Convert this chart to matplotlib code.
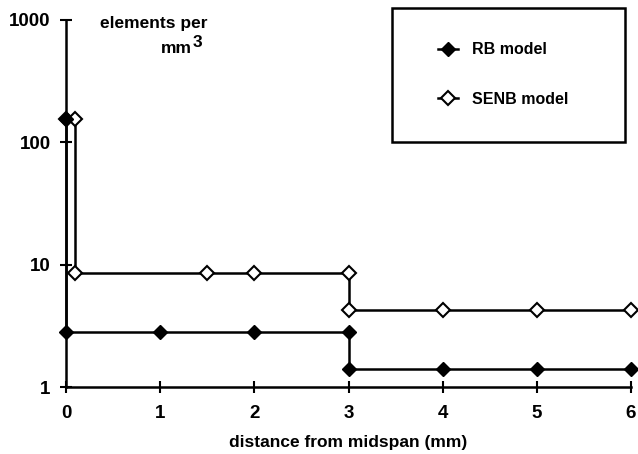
import matplotlib
matplotlib.use("Agg")
import matplotlib.pyplot as plt
from matplotlib.ticker import FixedLocator, NullLocator, FixedFormatter
from matplotlib.lines import Line2D
from matplotlib.patches import Rectangle

plt.rcParams['font.family'] = ['Liberation Sans', 'DejaVu Sans']
plt.rcParams['font.weight'] = 'bold'

# data
rb_x = [0, 0, 1, 2, 3, 3, 4, 5, 6]
rb_y = [155, 2.8, 2.8, 2.8, 2.8, 1.4, 1.4, 1.4, 1.4]
senb_x = [0, 0.1, 0.1, 1.5, 2, 3, 3, 4, 5, 6]
senb_y = [155, 155, 8.6, 8.6, 8.6, 8.6, 4.3, 4.3, 4.3, 4.3]
x_ticks = [0, 1, 2, 3, 4, 5, 6]
y_ticks = [1, 10, 100, 1000]
y_tick_labels = ['1', '10', '100', '1000']

W, H = 638, 454
fig = plt.figure(figsize=(W / 100, H / 100), dpi=100)
ax = fig.add_axes([66 / W, 1 - 387 / H, 565 / W, 367 / H])
ax.set_yscale('log')
ax.set_xlim(0, 6)
ax.set_ylim(1, 1000)

ax.plot(senb_x, senb_y, color='black', lw=1.8, marker='D', markersize=7,
        markerfacecolor='white', markeredgecolor='black', markeredgewidth=1.5,
        clip_on=False, zorder=3)
ax.plot(rb_x, rb_y, color='black', lw=1.8, marker='D', markersize=7,
        markerfacecolor='black', markeredgecolor='black',
        clip_on=False, zorder=4)

for s in ['top', 'right']:
    ax.spines[s].set_visible(False)
for s in ['left', 'bottom']:
    ax.spines[s].set_linewidth(1.8)

ax.xaxis.set_major_locator(FixedLocator(x_ticks))
ax.yaxis.set_major_locator(FixedLocator(y_ticks))
ax.yaxis.set_major_formatter(FixedFormatter(y_tick_labels))
ax.yaxis.set_minor_locator(NullLocator())
ax.tick_params(direction='inout', length=8, width=1.5, labelsize=13.5)
ax.tick_params(axis='y', pad=7)
ax.tick_params(axis='x', pad=9)
for lab in ax.get_xticklabels() + ax.get_yticklabels():
    lab.set_fontweight('bold')

ax.set_xlabel('distance from midspan (mm)', fontsize=12.5, fontweight='bold', labelpad=9)

fig.text(207 / W, 1 - 28 / H, 'elements per', ha='right', va='baseline', fontsize=12.5, fontweight='bold')
fig.text(192 / W, 1 - 53 / H, 'mm', ha='right', va='baseline', fontsize=12.5, fontweight='bold')
fig.text(193 / W, 1 - 47 / H, '3', ha='left', va='baseline', fontsize=12.5, fontweight='bold')

# legend frame
fig.patches.append(Rectangle((392 / W, 1 - 142 / H), (625 - 392) / W, (142 - 8) / H,
                             transform=fig.transFigure, fill=False, lw=1.8,
                             edgecolor='black'))
handles = [
    Line2D([], [], color='black', lw=1.8, marker='D', markersize=7,
           markerfacecolor='black'),
    Line2D([], [], color='black', lw=1.8, marker='D', markersize=7,
           markerfacecolor='white', markeredgewidth=1.5),
]
leg = fig.legend(handles, ['RB model', 'SENB model'], loc='upper left',
                 bbox_to_anchor=(424 / W, 1 - 28 / H), frameon=False,
                 handlelength=1.25, handletextpad=0.85, labelspacing=2.15,
                 prop={'size': 11.5, 'weight': 'bold'})

fig.savefig('out.png', dpi=100)
